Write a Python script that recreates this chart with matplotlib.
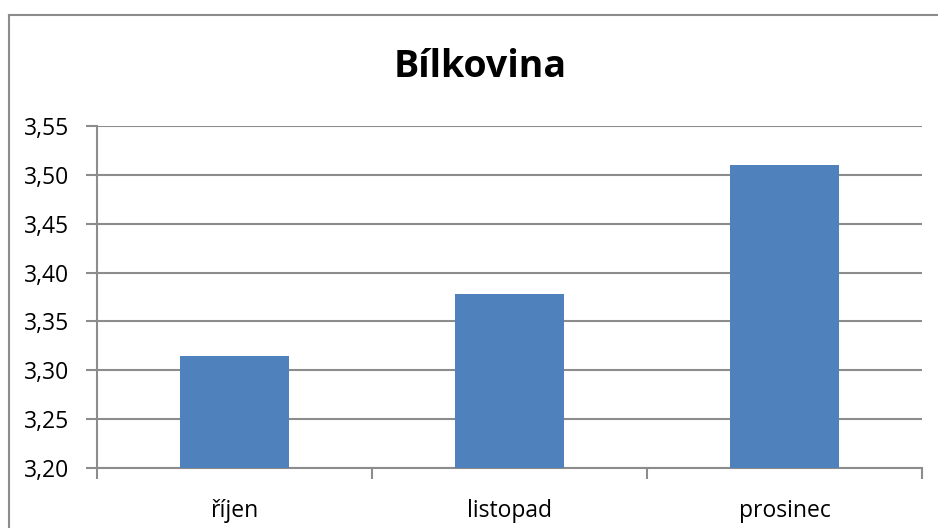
import matplotlib
matplotlib.use("Agg")
import matplotlib.pyplot as plt
from matplotlib.lines import Line2D
from matplotlib.ticker import FixedLocator, FuncFormatter

# Monthly protein content
months = ["říjen", "listopad", "prosinec"]
protein = [3.315, 3.378, 3.51]

y_ticks = [3.20, 3.25, 3.30, 3.35, 3.40, 3.45, 3.50, 3.55]

W, H = 938, 528
DPI = 100
fig = plt.figure(figsize=(W / DPI, H / DPI), dpi=DPI)
fig.patch.set_facecolor("white")

FONT = "Open Sans"
GRID = "#8c8c8c"
BAR = "#4F81BD"

ax = fig.add_axes([97 / W, 1 - 468 / H, (922 - 97) / W, (468 - 126) / H])

x = list(range(len(months)))
ax.bar(x, protein, width=0.393, color=BAR, zorder=3)

ax.set_xlim(-0.5, len(months) - 0.5)
ax.set_ylim(y_ticks[0], y_ticks[-1])
ax.yaxis.set_major_locator(FixedLocator(y_ticks))
ax.yaxis.set_major_formatter(FuncFormatter(lambda v, p: f"{v:.2f}".replace(".", ",")))
ax.grid(axis="y", color=GRID, linewidth=1.5, zorder=0)

# category labels without ticks; boundary ticks drawn as minor ticks
ax.set_xticks(x)
ax.set_xticklabels(months, fontfamily=FONT, fontsize=16.5)
ax.tick_params(axis="x", which="major", length=0, pad=22)
ax.set_xticks([i - 0.5 for i in range(len(months) + 1)], minor=True)
ax.tick_params(axis="x", which="minor", length=8, width=1.5, color=GRID, direction="out")

ax.tick_params(axis="y", length=8, width=1.5, color=GRID, direction="out", pad=12,
               labelsize=16.5)
for lbl in ax.get_yticklabels():
    lbl.set_fontfamily(FONT)

for side in ("top", "right"):
    ax.spines[side].set_visible(False)
for side in ("left", "bottom"):
    ax.spines[side].set_color(GRID)
    ax.spines[side].set_linewidth(1.5)

fig.text(480 / W, 1 - 67 / H, "Bílkovina", ha="center", va="center",
         fontfamily=FONT, fontweight="bold", fontsize=27)

# chart frame (top and left edges)
fig.add_artist(Line2D([9 / W, 1.0], [1 - 14.5 / H] * 2, color=GRID, linewidth=1.5,
                      transform=fig.transFigure))
fig.add_artist(Line2D([9 / W] * 2, [0.0, 1 - 14.5 / H], color=GRID, linewidth=1.5,
                      transform=fig.transFigure))

fig.savefig("out.png", dpi=DPI)
